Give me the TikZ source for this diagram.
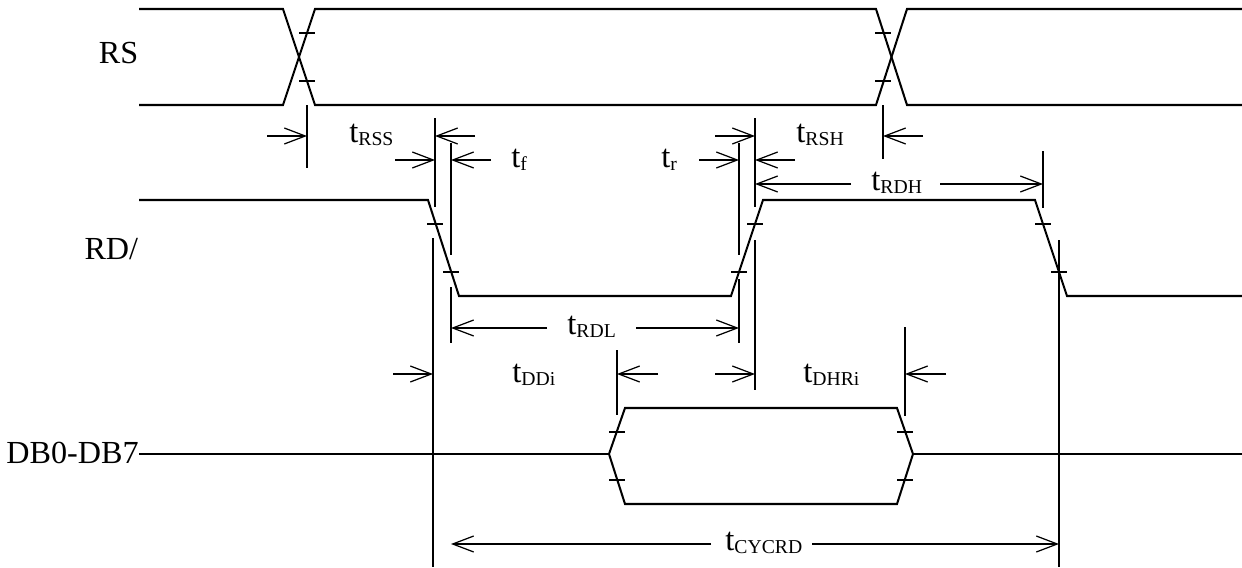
\documentclass[tikz,border=0pt]{standalone}
\usepackage{fontspec}
\setmainfont{Liberation Serif}
\usetikzlibrary{arrows.meta}
\newcommand{\tname}[1]{\fontsize{18.6}{20}\selectfont t\raisebox{-2pt}{\fontsize{11.2}{13}\selectfont #1}}
\tikzset{
  signal/.style={line width=1.15pt},
  ext/.style={line width=.7pt},
  dim/.style={line width=.7pt,-{Straight Barb[length=.42cm,width=.32cm,line width=.7pt]}},
  sig name/.style={anchor=base east,inner sep=0pt,font=\fontsize{18.3}{20}\selectfont},
  time name/.style={anchor=base west,inner sep=0pt}
}
\begin{document}
\begin{tikzpicture}[x=.02cm,y=-.02cm]
\useasboundingbox (0,0) rectangle (1242,568);
% signal names
\node [sig name] (RS) at (138.5,63) {RS};
\node [sig name] (RD) at (138.5,259) {RD/};
\node [sig name] (DB) at (139,463) {DB0-DB7};
% waveforms
\draw[signal] (139,9)--(283,9)--(315,105)--(876,105)--(907,9)--(1242,9);
\draw[signal] (139,105)--(283,105)--(315,9)--(876,9)--(907,105)--(1242,105);
\draw[signal] (139,200)--(428,200)--(459,296)--(731,296)--(763,200)--(1035,200)--(1067,296)--(1242,296);
\coordinate (busleft) at (139,454);
\coordinate (busin) at (609,454);
\coordinate (busout) at (913,454);
\coordinate (busright) at (1242,454);
\draw[signal] (busleft)--(busin);
\draw[signal] (busout)--(busright);
\draw[signal] (busin)--(625,408)--(897,408)--(busout)--(897,504)--(625,504)--cycle;
% level marks
\foreach \x/\y in {299/33,299/81,875/33,875/81,427/224,443/272,747/224,731/272,1035/224,1051/272,609/432,609/480,897/432,897/480}
  \draw[ext] (\x,\y) -- ++(16,0);
% extension lines
\foreach \x/\ya/\yb in {307/105/168,435/118/207,451/143/255,451/287/343,433/238/567,
  739/143/255,739/279/343,755/118/207,755/240/390,883/105/159,1043/151/208,1059/240/567,617/350/415,905/327/416}
  \draw[ext] (\x,\ya) -- (\x,\yb);
% time labels
\node [time name] (RSS) at (349,142) {\tname{RSS}};
\node [time name] (f) at (511,167) {\tname{f}};
\node [time name] (r) at (661,167) {\tname{r}};
\node [time name] (RSH) at (796,142) {\tname{RSH}};
\node [time name] (RDH) at (871,190) {\tname{RDH}};
\node [time name] (RDL) at (567,334) {\tname{RDL}};
\node [time name] (DDi) at (512,382) {\tname{DDi}};
\node [time name] (DHRi) at (803,382) {\tname{DHRi}};
\node [time name] (CYCRD) at (725,550) {\tname{CYCRD}};
% dimension arrows
\foreach \xa/\xb/\y in {267/307/136,475/435/136,395/435/160,491/451/160,699/739/160,715/755/136,795/755/160,923/883/136,
  851/755/184,940/1043/184,547/451/328,636/739/328,393/433/374,658/617/374,715/755/374,946/905/374,711/451/544,812/1059/544}
  \draw[dim] (\xa,\y) -- (\xb,\y);
\end{tikzpicture}
\end{document}
